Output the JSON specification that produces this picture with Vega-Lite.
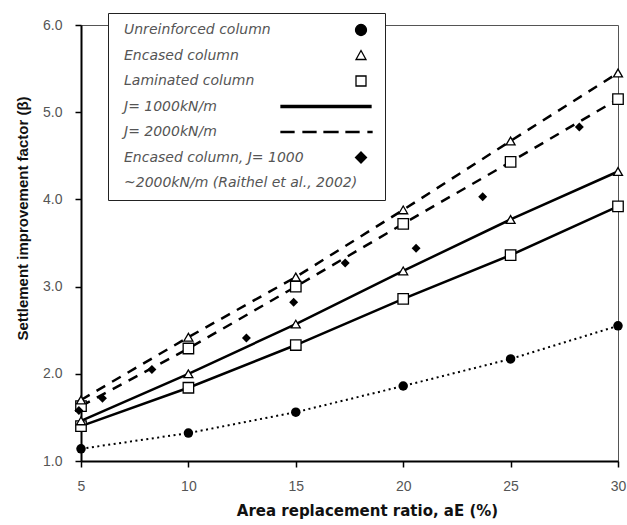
{
  "$schema": "https://vega.github.io/schema/vega-lite/v6.json",
  "width": 537,
  "height": 436,
  "autosize": {"type": "none"},
  "padding": {"left": 81, "top": 25, "right": 9, "bottom": 64},
  "background": "white",
  "config": {
    "view": {"stroke": "#555", "strokeWidth": 1},
    "font": "Liberation Sans",
    "axis": {"grid": false, "labelFont": "Liberation Sans", "titleFont": "Liberation Sans"}
  },
  "datasets": {
    "curves": [
      {"col": "Unreinforced", "J": "none", "ratio": 5, "beta": 1.14},
      {"col": "Unreinforced", "J": "none", "ratio": 10, "beta": 1.32},
      {"col": "Unreinforced", "J": "none", "ratio": 15, "beta": 1.56},
      {"col": "Unreinforced", "J": "none", "ratio": 20, "beta": 1.86},
      {"col": "Unreinforced", "J": "none", "ratio": 25, "beta": 2.17},
      {"col": "Unreinforced", "J": "none", "ratio": 30, "beta": 2.55},
      {"col": "Encased", "J": "1000", "ratio": 5, "beta": 1.46},
      {"col": "Encased", "J": "1000", "ratio": 10, "beta": 2.0},
      {"col": "Encased", "J": "1000", "ratio": 15, "beta": 2.57},
      {"col": "Encased", "J": "1000", "ratio": 20, "beta": 3.18},
      {"col": "Encased", "J": "1000", "ratio": 25, "beta": 3.77},
      {"col": "Encased", "J": "1000", "ratio": 30, "beta": 4.32},
      {"col": "Laminated", "J": "1000", "ratio": 5, "beta": 1.4},
      {"col": "Laminated", "J": "1000", "ratio": 10, "beta": 1.84},
      {"col": "Laminated", "J": "1000", "ratio": 15, "beta": 2.33},
      {"col": "Laminated", "J": "1000", "ratio": 20, "beta": 2.86},
      {"col": "Laminated", "J": "1000", "ratio": 25, "beta": 3.36},
      {"col": "Laminated", "J": "1000", "ratio": 30, "beta": 3.92},
      {"col": "Encased", "J": "2000", "ratio": 5, "beta": 1.7},
      {"col": "Encased", "J": "2000", "ratio": 10, "beta": 2.42},
      {"col": "Encased", "J": "2000", "ratio": 15, "beta": 3.11},
      {"col": "Encased", "J": "2000", "ratio": 20, "beta": 3.88},
      {"col": "Encased", "J": "2000", "ratio": 25, "beta": 4.67},
      {"col": "Encased", "J": "2000", "ratio": 30, "beta": 5.45},
      {"col": "Laminated", "J": "2000", "ratio": 5, "beta": 1.63},
      {"col": "Laminated", "J": "2000", "ratio": 10, "beta": 2.29},
      {"col": "Laminated", "J": "2000", "ratio": 15, "beta": 3.0},
      {"col": "Laminated", "J": "2000", "ratio": 20, "beta": 3.72},
      {"col": "Laminated", "J": "2000", "ratio": 25, "beta": 4.43},
      {"col": "Laminated", "J": "2000", "ratio": 30, "beta": 5.15}
    ],
    "raithel": [
      {"ratio": 4.9, "beta": 1.58},
      {"ratio": 6.0, "beta": 1.72},
      {"ratio": 8.3, "beta": 2.05},
      {"ratio": 12.7, "beta": 2.41},
      {"ratio": 14.9, "beta": 2.82},
      {"ratio": 17.3, "beta": 3.27},
      {"ratio": 20.6, "beta": 3.44},
      {"ratio": 23.7, "beta": 4.03},
      {"ratio": 28.2, "beta": 4.83}
    ]
  },
  "layer": [
    {
      "data": {"name": "curves"},
      "transform": [{"filter": "datum.J == 'none'"}],
      "mark": {"type": "line", "color": "black", "strokeWidth": 2, "strokeDash": [2, 3.5]},
      "encoding": {
        "x": {"field": "ratio", "type": "quantitative", "scale": {"domain": [5, 30], "nice": false, "zero": false},
          "axis": {"orient": "bottom", "values": [5, 10, 15, 20, 25, 30], "tickSize": 6, "tickWidth": 1.5, "tickColor": "black",
            "domainColor": "black", "domainWidth": 2, "labelFontSize": 14, "labelColor": "#555", "labelPadding": 12, "labelFlush": false,
            "title": "Area replacement ratio, aE (%)", "titleFont": "DejaVu Sans", "titleFontSize": 15, "titleFontWeight": "bold", "titleColor": "#111",
            "titleX": 286, "titleY": 49, "titleBaseline": "middle"}},
        "y": {"field": "beta", "type": "quantitative", "scale": {"domain": [1, 6], "nice": false, "zero": false},
          "axis": {"orient": "left", "values": [1, 2, 3, 4, 5, 6], "tickSize": 6, "tickWidth": 1.5, "tickColor": "black",
            "domainColor": "black", "domainWidth": 2, "labelFontSize": 14, "labelColor": "#555", "labelPadding": 13, "labelFlush": false,
            "title": "Settlement improvement factor (β)", "titleFontSize": 15, "titleFontWeight": "bold", "titleColor": "#111",
            "titleX": -59, "titleY": 193, "titleBaseline": "middle"}}
      }
    },
    {
      "data": {"name": "curves"},
      "transform": [{"filter": "datum.J == '1000'"}],
      "mark": {"type": "line", "color": "black", "strokeWidth": 2.5},
      "encoding": {
        "x": {"field": "ratio", "type": "quantitative"},
        "y": {"field": "beta", "type": "quantitative"},
        "detail": {"field": "col"}
      }
    },
    {
      "data": {"name": "curves"},
      "transform": [{"filter": "datum.J == '2000'"}],
      "mark": {"type": "line", "color": "black", "strokeWidth": 2.5, "strokeDash": [10, 8]},
      "encoding": {
        "x": {"field": "ratio", "type": "quantitative"},
        "y": {"field": "beta", "type": "quantitative"},
        "detail": {"field": "col"}
      }
    },
    {
      "data": {"name": "curves"},
      "transform": [{"filter": "datum.col == 'Unreinforced'"}],
      "mark": {"type": "point", "shape": "circle", "filled": true, "color": "black", "size": 90, "opacity": 1},
      "encoding": {
        "x": {"field": "ratio", "type": "quantitative"},
        "y": {"field": "beta", "type": "quantitative"}
      }
    },
    {
      "data": {"name": "curves"},
      "transform": [{"filter": "datum.col == 'Laminated'"}],
      "mark": {"type": "point", "shape": "square", "filled": true, "fill": "white", "stroke": "black", "strokeWidth": 1.3, "size": 110, "opacity": 1},
      "encoding": {
        "x": {"field": "ratio", "type": "quantitative"},
        "y": {"field": "beta", "type": "quantitative"}
      }
    },
    {
      "data": {"name": "curves"},
      "transform": [{"filter": "datum.col == 'Encased'"}],
      "mark": {"type": "point", "shape": "triangle-up", "filled": true, "fill": "white", "stroke": "black", "strokeWidth": 1.3, "size": 80, "opacity": 1},
      "encoding": {
        "x": {"field": "ratio", "type": "quantitative"},
        "y": {"field": "beta", "type": "quantitative"}
      }
    },
    {
      "data": {"name": "raithel"},
      "mark": {"type": "point", "shape": "diamond", "filled": true, "color": "black", "size": 80, "opacity": 1},
      "encoding": {
        "x": {"field": "ratio", "type": "quantitative"},
        "y": {"field": "beta", "type": "quantitative"}
      }
    },
    {
      "data": {"name": "raithel"},
      "transform": [{"filter": "false"}],
      "mark": {"type": "point", "filled": true, "opacity": 1},
      "encoding": {
        "shape": {"field": "leg", "type": "nominal",
          "scale": {
            "domain": ["Unreinforced column", "Encased column", "Laminated column", "J= 1000kN/m", "J= 2000kN/m", "Encased column, J= 1000", "~2000kN/m (Raithel et al., 2002)"],
            "range": [
              "M48.3,0A1.1,1.1,0,1,1,46.1,0A1.1,1.1,0,1,1,48.3,0Z",
              "M47.2,-1L48.2,0.8L46.2,0.8Z",
              "M46.2,-1H48.2V1H46.2Z",
              "M31.2,-0.2H49.2V0.2H31.2Z",
              "M31.2,-0.1H33.8V0.1H31.2ZM35.6,-0.1H38.2V0.1H35.6ZM39.8,-0.1H42.6V0.1H39.8ZM44.2,-0.1H46.8V0.1H44.2ZM48.6,-0.1H49.4V0.1H48.6Z",
              "M47.2,-1.1L48.3,0L47.2,1.1L46.1,0Z",
              "M47.2,0"
            ]},
          "legend": {
            "title": null, "orient": "none", "legendX": 27, "legendY": -12,
            "padding": 10, "fillColor": "white", "strokeColor": "#222", "gridAlign": "all",
            "symbolSize": 100, "symbolStrokeWidth": 1.3,
            "labelFont": "DejaVu Sans", "labelFontStyle": "italic", "labelFontSize": 14, "labelColor": "#555",
            "labelOffset": -8, "labelLimit": 400, "rowPadding": 7.5, "cornerRadius": 0
          }},
        "fill": {"field": "leg", "type": "nominal",
          "scale": {
            "domain": ["Unreinforced column", "Encased column", "Laminated column", "J= 1000kN/m", "J= 2000kN/m", "Encased column, J= 1000", "~2000kN/m (Raithel et al., 2002)"],
            "range": ["black", "white", "white", "black", "black", "black", "transparent"]},
          "legend": {
            "title": null, "orient": "none", "legendX": 27, "legendY": -12,
            "padding": 10, "fillColor": "white", "strokeColor": "#222", "gridAlign": "all",
            "symbolSize": 100, "symbolStrokeWidth": 1.3,
            "labelFont": "DejaVu Sans", "labelFontStyle": "italic", "labelFontSize": 14, "labelColor": "#555",
            "labelOffset": -8, "labelLimit": 400, "rowPadding": 7.5, "cornerRadius": 0
          }},
        "stroke": {"field": "leg", "type": "nominal",
          "scale": {
            "domain": ["Unreinforced column", "Encased column", "Laminated column", "J= 1000kN/m", "J= 2000kN/m", "Encased column, J= 1000", "~2000kN/m (Raithel et al., 2002)"],
            "range": ["black", "black", "black", "black", "black", "black", "transparent"]},
          "legend": {
            "title": null, "orient": "none", "legendX": 27, "legendY": -12,
            "padding": 10, "fillColor": "white", "strokeColor": "#222", "gridAlign": "all",
            "symbolSize": 100, "symbolStrokeWidth": 1.3,
            "labelFont": "DejaVu Sans", "labelFontStyle": "italic", "labelFontSize": 14, "labelColor": "#555",
            "labelOffset": -8, "labelLimit": 400, "rowPadding": 7.5, "cornerRadius": 0
          }}
      }
    }
  ]
}
